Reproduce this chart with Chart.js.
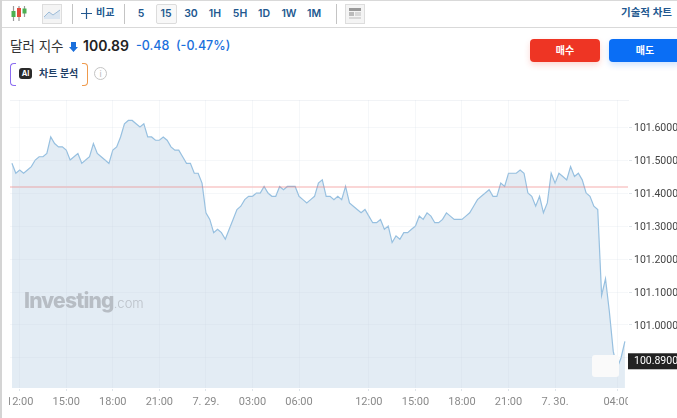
<!DOCTYPE html>
<html lang="ko">
<head>
<meta charset="utf-8">
<title>달러 지수</title>
<script src="https://cdn.jsdelivr.net/npm/chart.js@4/dist/chart.umd.min.js"></script>
<style>
    html, body { margin: 0; padding: 0; background: #fff; }
    body { width: 677px; height: 418px; position: relative; overflow: hidden; font-family: Inter, "Noto Sans CJK KR", sans-serif; }
    .abs { position: absolute; white-space: nowrap; }
    .edge { left: 0; top: 0; width: 2px; height: 418px; background: #d4d4d4; z-index: 5; }
    .topline { left: 0; top: 0; width: 677px; height: 1px; background: #d9d9d9; }
    .barline { left: 0; top: 27px; width: 677px; height: 1px; background: #d9d9d9; }
    .sep { top: 4px; width: 1px; height: 20px; background: #c4c4c4; }
    .tf { top: 6px; width: 24px; text-align: center; font-size: 10.5px; line-height: 15px; font-weight: 600; color: #22588f; }
    .tfbox { left: 156px; top: 4px; width: 19px; height: 18px; border: 1px solid #dcdcdc; border-radius: 2px; background: #f8f8f8; }
    .btn { top: 39px; height: 23px; line-height: 23px; text-align: center; color: #fff; font-size: 10px; font-weight: 700; border-radius: 4px; }
    #chartWrap { position: absolute; left: 0; top: 100px; width: 677px; height: 318px; }
</style>
</head>
<body>
<div class="abs edge"></div>
<div class="abs topline"></div>
<div class="abs barline"></div>

<!-- toolbar -->
<svg class="abs" style="left:10px;top:5px" width="18" height="18" viewBox="0 0 18 18">
    <path d="M3.5 1v15M9 1v15M14.500 1v11" stroke="#999" stroke-width="1.200"/>
    <rect x="1.500" y="6" width="4" height="6" fill="#4caf50"/>
    <rect x="7" y="3" width="4" height="9" fill="#e24a3b"/>
    <rect x="12.500" y="3.500" width="4" height="5" fill="#4caf50"/>
</svg>
<div class="abs" style="left:42px;top:4px;width:18px;height:18px;border:1px solid #ddd;background:#f4f4f4"></div>
<svg class="abs" style="left:43px;top:5px" width="18" height="18" viewBox="0 0 18 18">
    <path d="M1 12L6 7l4 3 7-5v9H1z" fill="#dbe6f1"/>
    <path d="M1 12L6 7l4 3 7-5" stroke="#9dbcd8" fill="none"/>
</svg>
<div class="abs sep" style="left:72px"></div>
<svg class="abs" style="left:81px;top:8px" width="11" height="11" viewBox="0 0 11 11">
    <path d="M5.500 0v11M0 5.500h11" stroke="#22588f" stroke-width="1.200"/>
</svg>
<div class="abs" style="left:96px;top:5px;font-size:10px;line-height:15px;font-weight:600;color:#22588f">비교</div>
<div class="abs sep" style="left:124px"></div>
<div class="abs tfbox"></div>
<div class="abs tf" style="left:129px">5</div>
<div class="abs tf" style="left:154px">15</div>
<div class="abs tf" style="left:179px">30</div>
<div class="abs tf" style="left:203px">1H</div>
<div class="abs tf" style="left:228px">5H</div>
<div class="abs tf" style="left:252px">1D</div>
<div class="abs tf" style="left:277px">1W</div>
<div class="abs tf" style="left:302px">1M</div>
<div class="abs sep" style="left:336px"></div>
<div class="abs" style="left:345px;top:4px;width:18px;height:18px;border:1px solid #ddd;background:#f4f4f4"></div>
<svg class="abs" style="left:349px;top:8px" width="12" height="12" viewBox="0 0 12 12">
    <rect width="12" height="3" fill="#999"/>
    <rect y="4" width="5" height="4" fill="#bbb"/>
    <path d="M6 5h6M6 7h6M0 10h12" stroke="#bbb"/>
</svg>
<div class="abs" style="right:5px;top:5px;font-size:10.5px;line-height:15px;font-weight:600;color:#22588f">기술적 차트</div>

<!-- title row -->
<div class="abs" style="left:10px;top:37px;font-size:13.5px;line-height:18px;color:#333">달러 지수</div>
<svg class="abs" style="left:69px;top:42px" width="9" height="10" viewBox="0 0 9 10">
    <path d="M2 0h5v5h2L4.500 10 0 5h2z" fill="#1a6fdc"/>
</svg>
<div class="abs" style="left:83px;top:37px;font-size:14px;line-height:18px;font-weight:600;color:#222">100.89</div>
<div class="abs" style="left:136px;top:37px;font-size:12.500px;line-height:18px;font-weight:500;color:#1a6fdc">-0.48</div>
<div class="abs" style="left:176px;top:37px;font-size:12.500px;line-height:18px;font-weight:500;color:#1a6fdc">(-0.47%)</div>

<!-- AI chart analysis -->
<div class="abs" style="left:10px;top:63px;width:5px;height:21px;border:1px solid #8a6cf0;border-right:none;border-radius:4px 0 0 4px"></div>
<div class="abs" style="left:82px;top:63px;width:5px;height:21px;border:1px solid #ef9a4c;border-left:none;border-radius:0 4px 4px 0"></div>
<div class="abs" style="left:19px;top:68px;width:13px;height:11px;line-height:11px;background:#2a2a2a;border-radius:3px;color:#fff;font-size:7.500px;font-weight:700;text-align:center">AI</div>
<div class="abs" style="left:39px;top:66px;font-size:10px;line-height:15px;font-weight:600;color:#1f3f66">차트 분석</div>
<div class="abs" style="left:94px;top:67px;width:11px;height:11px;line-height:11px;border:1px solid #c4c4c4;border-radius:50%;color:#bbb;font-size:9px;text-align:center">i</div>

<!-- buy / sell -->
<div class="abs btn" style="left:530px;width:70px;background:#ee3524;box-shadow:0 3px 6px rgba(238,53,36,.2)">매수</div>
<div class="abs btn" style="left:609px;width:72px;background:#0a6ef5;box-shadow:0 3px 6px rgba(10,110,245,.2)">매도</div>

<div id="chartWrap"><canvas id="priceChart" width="677" height="318"></canvas></div>

<!-- watermark and the little box over the end of the line -->
<div class="abs" style="left:24px;top:288px;font-size:21px;line-height:26px;font-weight:800;letter-spacing:-.8px;color:#b7bdc4">Investing<span style="font-size:13px;font-weight:300;letter-spacing:0;color:#bcc2c9">.com</span></div>
<div class="abs" style="left:592px;top:355px;width:27px;height:22px;background:#fafafa;border-radius:3px"></div>

<script>
// 15 minute closes
const prices = [
    101.49, 101.46, 101.47, 101.46, 101.47, 101.48, 101.50, 101.51, 101.51, 101.52,
    101.57, 101.55, 101.54, 101.54, 101.53, 101.50, 101.51, 101.52, 101.49, 101.50,
    101.51, 101.55, 101.52, 101.51, 101.50, 101.49, 101.53, 101.54, 101.57, 101.61,
    101.62, 101.62, 101.61, 101.60, 101.61, 101.57, 101.57, 101.56, 101.56, 101.57,
    101.56, 101.54, 101.53, 101.53, 101.51, 101.49, 101.49, 101.46, 101.46, 101.43,
    101.34, 101.32, 101.28, 101.29, 101.28, 101.26, 101.29, 101.32, 101.35, 101.36,
    101.38, 101.39, 101.39, 101.40, 101.40, 101.42, 101.40, 101.39, 101.39, 101.42,
    101.41, 101.42, 101.42, 101.42, 101.39, 101.38, 101.37, 101.38, 101.39, 101.43,
    101.44, 101.39, 101.39, 101.38, 101.39, 101.38, 101.42, 101.37, 101.36, 101.35,
    101.34, 101.35, 101.33, 101.31, 101.31, 101.32, 101.29, 101.30, 101.25, 101.27,
    101.26, 101.28, 101.28, 101.29, 101.30, 101.33, 101.32, 101.34, 101.33, 101.31,
    101.31, 101.32, 101.34, 101.33, 101.32, 101.32, 101.32, 101.33, 101.34, 101.36,
    101.38, 101.39, 101.40, 101.41, 101.39, 101.39, 101.43, 101.42, 101.46, 101.46,
    101.46, 101.47, 101.46, 101.40, 101.39, 101.36, 101.39, 101.34, 101.37, 101.46,
    101.43, 101.46, 101.45, 101.44, 101.48, 101.45, 101.46, 101.44, 101.40, 101.39,
    101.36, 101.35, 101.09, 101.14, 101.04, 100.92, 100.87, 100.90, 100.95
];
const xTickIndex = [2, 14, 26, 38, 50, 62, 74, 92, 104, 116, 128, 140, 156];
const xTickLabels = ['12:00', '15:00', '18:00', '21:00', '7. 29.', '03:00', '06:00', '12:00', '15:00', '18:00', '21:00', '7. 30.', '04:00'];
const yTickValues = [100.9, 101.0, 101.1, 101.2, 101.3, 101.4, 101.5, 101.6];
const previousClose = 101.418;
const lastPrice = 100.89;

const xMin = -0.5;
const xMax = 158.8;

// black price tag on the axis, and cut the x labels off at the plot edges like the original
const edgePlugin = {
    id: 'edgePlugin',
    afterDraw(chart) {
        const ctx = chart.ctx;
        const area = chart.chartArea;
        ctx.save();
        ctx.clearRect(0, area.bottom + 5, area.left - 1, chart.height);
        ctx.clearRect(area.right, area.bottom + 1, chart.width, chart.height);
        const y = chart.scales.y.getPixelForValue(lastPrice);
        ctx.fillStyle = '#222';
        ctx.fillRect(area.right, y - 8, chart.width - area.right, 16);
        ctx.fillStyle = '#fff';
        ctx.font = '10.5px Roboto';
        ctx.textBaseline = 'middle';
        ctx.fillText(lastPrice.toFixed(4), area.right + 6, y + 0.5);
        ctx.restore();
    }
};

new Chart(document.getElementById('priceChart'), {
    type: 'line',
    data: {
        datasets: [
            {
                data: prices.map((p, i) => ({ x: i, y: p })),
                borderColor: '#97c0e0',
                borderWidth: 1.2,
                backgroundColor: '#e3ecf4',
                fill: 'start',
                pointRadius: 0,
                tension: 0,
                order: 2
            },
            {
                data: [{ x: xMin, y: previousClose }, { x: xMax, y: previousClose }],
                borderColor: 'rgba(240, 120, 120, 0.3)',
                borderWidth: 2,
                fill: false,
                pointRadius: 0,
                order: 1
            }
        ]
    },
    options: {
        responsive: false,
        animation: false,
        layout: { padding: { left: 10, right: 0, top: 0, bottom: 0 } },
        plugins: { legend: { display: false }, tooltip: { enabled: false } },
        scales: {
            x: {
                type: 'linear',
                min: xMin,
                max: xMax,
                afterBuildTicks(scale) {
                    scale.ticks = xTickIndex.map(v => ({ value: v }));
                },
                afterFit(scale) {
                    scale.height = 30;
                    scale.paddingLeft = 0;
                    scale.paddingRight = 0;
                },
                grid: { color: 'rgba(205, 215, 225, 0.2)', z: 1, tickColor: '#dfe5ea', tickLength: 3 },
                border: { color: '#e3e8ee' },
                ticks: {
                    autoSkip: false,
                    maxRotation: 0,
                    padding: 5,
                    color: '#8a8a8a',
                    font: { family: 'Roboto', size: 11 },
                    callback: value => xTickLabels[xTickIndex.indexOf(value)]
                }
            },
            y: {
                position: 'right',
                min: 100.809,
                max: 101.682,
                afterBuildTicks(scale) {
                    scale.ticks = yTickValues.map(v => ({ value: v }));
                },
                afterFit(scale) {
                    scale.width = 49;
                    scale.paddingTop = 0;
                    scale.paddingBottom = 0;
                },
                grid: { color: 'rgba(205, 215, 225, 0.2)', z: 1, tickColor: '#dfe5ea', tickLength: 4 },
                border: { color: '#dfe5ec' },
                ticks: {
                    padding: 2,
                    labelOffset: 1,
                    color: '#444',
                    font: { family: 'Roboto', size: 10.5 },
                    callback: value => value.toFixed(4)
                }
            }
        }
    },
    plugins: [edgePlugin]
});
</script>
</body>
</html>
